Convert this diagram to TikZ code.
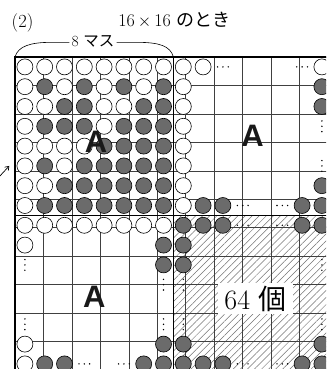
\documentclass[tikz,border=0pt]{standalone}
\usepackage{fontspec}
\newfontfamily\jpfont{Noto Sans CJK JP}
\newfontfamily\bigAfont{Liberation Sans}
\usetikzlibrary{patterns.meta,arrows.meta}

\begin{document}
\begin{tikzpicture}[
  x=19.8pt, y=-19.8pt,
  thin grid/.style={draw=black!75, line width=0.5pt},
  thick line/.style={line width=1.6pt},
  white stone/.style={draw, fill=white, line width=0.6pt},
  gray stone/.style={draw, fill=black!58, line width=0.6pt},
  big letter/.style={font=\bigAfont\bfseries\fontsize{31}{31}\selectfont, inner sep=0pt, text=black!90},
  hatch/.style={pattern={Lines[angle=45,distance=5pt,line width=0.5pt]}, pattern color=black!55}
]
\useasboundingbox (-0.758,-2.879) rectangle (15.707,15.758);
\clip (-0.758,-2.879) rectangle (15.707,15.758);

% Hatched quarter
\fill[hatch] (8,8) rectangle (16,16);

% Board
\draw[thin grid] (0,0) grid (16,16);
\draw[thick line] (0,0) rectangle (16,16);
\draw[thick line] (8,0) -- (8,16);
\draw[thick line] (0,8) -- (16,8);

% Upper left quarter, full
\foreach \pat [count=\j] in {{0,0,0,0,0,0,0,0},{0,1,0,1,0,1,0,1},{0,0,1,1,0,0,1,1},{0,1,1,1,0,1,1,1},
                             {0,0,0,0,1,1,1,1},{0,1,0,1,1,1,1,1},{0,0,1,1,1,1,1,1},{0,1,1,1,1,1,1,1}}
  \foreach \v [count=\i] in \pat {
    \ifnum\v=0
      \draw[white stone] (\i-0.5,\j-0.5) circle (8pt);
    \else
      \draw[gray stone] (\i-0.5,\j-0.5) circle (8pt);
    \fi
  }

% White stones on the edges
\foreach \x/\y in {8.5/0.5, 9.5/0.5, 15.5/0.5, 8.5/1.5, 8.5/2.5, 8.5/3.5, 8.5/4.5, 8.5/5.5, 8.5/6.5, 8.5/7.5,
                   0.5/8.5, 1.5/8.5, 2.5/8.5, 3.5/8.5, 4.5/8.5, 5.5/8.5, 6.5/8.5, 7.5/8.5,
                   0.5/9.5, 0.5/14.5, 0.5/15.5}
  \draw[white stone] (\x,\y) circle (8pt);

% Gray stones on the edges
\foreach \x/\y in {15.5/1.5, 15.5/2.5, 15.5/6.5, 15.5/7.5, 9.5/7.5, 10.5/7.5, 14.5/7.5,
                   7.5/9.5, 7.5/10.5, 7.5/14.5, 7.5/15.5, 1.5/15.5, 2.5/15.5, 6.5/15.5,
                   8.5/8.5, 9.5/8.5, 10.5/8.5, 14.5/8.5, 15.5/8.5,
                   8.5/9.5, 8.5/10.5, 8.5/14.5, 8.5/15.5, 9.5/15.5, 10.5/15.5, 14.5/15.5, 15.5/15.5,
                   15.5/14.5}
  \draw[gray stone] (\x,\y) circle (8pt);

% Dots along a row
\foreach \x/\y in {10.5/0.5, 14.5/0.5, 11.5/7.5, 13.5/7.5, 3.5/15.5, 5.5/15.5,
                   11.5/8.5, 13.5/8.5, 11.5/15.5, 13.5/15.5}
  \foreach \d in {-0.27,0,0.27}
    \fill (\x+\d,\y) circle (0.8pt);

% Dots down a column
\foreach \x/\y in {15.5/3.5, 15.5/5.5, 0.5/10.5, 0.5/13.5, 7.5/11.5, 7.5/13.5,
                   8.5/11.5, 8.5/13.5, 15.5/10.5, 15.5/13.5}
  \foreach \d in {-0.27,0,0.27}
    \fill (\x,\y+\d) circle (0.8pt);

% Letters
\node[big letter] (A1) at (4.1,4.3) {A};
\node[big letter] (A2) at (12,4) {A};
\node[big letter] (A3) at (4,12.1) {A};
\node[fill=white, inner xsep=6pt, inner ysep=3pt, font=\fontsize{28}{28}\selectfont] (cnt) at (12.15,12.2) {64 {\jpfont 個}};

% Heading
\node[font=\fontsize{18.5}{18.5}\selectfont] (num) at (0.38,-1.72) {(2)};
\node[font=\fontsize{18}{18}\selectfont] (title) at (8.05,-1.89) {16\,$\times$\,16 {\jpfont のとき}};
\node[font=\fontsize{15.5}{15.5}\selectfont, inner sep=2pt] (span) at (3.94,-0.78) {8 {\jpfont マス}};
\coordinate (spanL) at (0,0);
\coordinate (spanR) at (8,0);
\draw[line width=0.6pt] (spanL) .. controls (0.15,-0.55) and (0.8,-0.74) .. (1.8,-0.74) -- (span.west |- 0,-0.74);
\draw[line width=0.6pt] (span.east |- 0,-0.74) -- (6.2,-0.74) .. controls (7.3,-0.74) and (7.85,-0.55) .. (spanR);

% Arrow at the left
\coordinate (arrS) at (-0.8,6.05);
\coordinate (arrE) at (-0.29,5.5);
\draw[-{Straight Barb[length=3.5pt,width=5pt]}, line width=0.7pt] (arrS) -- (arrE);
\end{tikzpicture}
\end{document}
